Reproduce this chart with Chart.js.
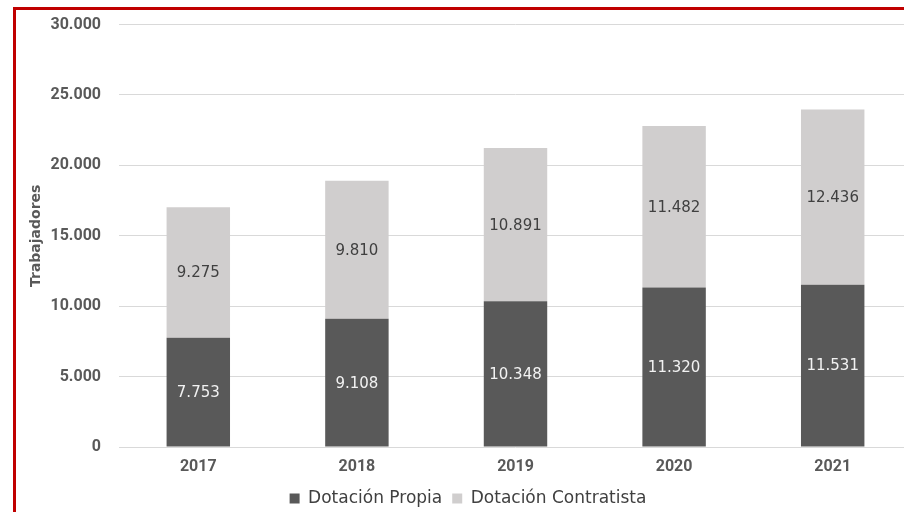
<!DOCTYPE html>
<html>
<head>
<meta charset="utf-8">
<script src="https://cdn.jsdelivr.net/npm/chart.js@4"></script>
<style>
  html, body { margin: 0; padding: 0; background: #fff; overflow: hidden; width: 904px; height: 512px; }
  #wrap { position: absolute; left: 0; top: -3px; width: 916px; height: 520px; }
  #frame { position: absolute; left: 13px; top: 7px; width: 900px; height: 510px; border-top: 3px solid #c00000; border-left: 3px solid #c00000; pointer-events: none; }
</style>
</head>
<body>
<div id="wrap"><canvas id="c" width="916" height="520"></canvas></div>
<div id="frame"></div>
<script>
const categories = ['2017', '2018', '2019', '2020', '2021'];
const propia = [7753, 9108, 10348, 11320, 11531];
const contratista = [9275, 9810, 10891, 11482, 12436];
const seriesNames = ['Dotación Propia', 'Dotación Contratista'];
const yTicks = [0, 5000, 10000, 15000, 20000, 25000, 30000];

function fmt(v) {
  return String(Math.round(v)).replace(/\B(?=(\d{3})+(?!\d))/g, '.');
}

const labelPlugin = {
  id: 'segLabels',
  afterDatasetsDraw(chart) {
    const ctx = chart.ctx;
    ctx.save();
    ctx.font = '15px "DejaVu Sans"';
    ctx.textAlign = 'center';
    ctx.textBaseline = 'middle';
    chart.data.datasets.forEach((ds, i) => {
      const meta = chart.getDatasetMeta(i);
      meta.data.forEach((el, j) => {
        const p = el.getCenterPoint();
        ctx.fillStyle = i === 0 ? '#f2f2f2' : '#404040';
        ctx.fillText(fmt(ds.data[j]), p.x, p.y + 1);
      });
    });
    ctx.restore();
  }
};

const tickFont = { family: 'Roboto', size: 16, weight: 'bold' };

new Chart(document.getElementById('c'), {
  type: 'bar',
  data: {
    labels: categories,
    datasets: [
      { label: seriesNames[0], data: propia, backgroundColor: '#595959', barPercentage: 0.4, categoryPercentage: 1 },
      { label: seriesNames[1], data: contratista, backgroundColor: '#d0cece', barPercentage: 0.4, categoryPercentage: 1 }
    ]
  },
  options: {
    responsive: false,
    animation: false,
    layout: { padding: { left: 24, top: 5, right: 4, bottom: 0 } },
    scales: {
      x: {
        stacked: true,
        afterFit(axis) { axis.height = 33; },
        grid: { display: false, drawTicks: false },
        border: { display: false },
        ticks: { color: '#595959', font: tickFont, padding: 10 }
      },
      y: {
        stacked: true,
        min: 0, max: 30000,
        afterBuildTicks(axis) { axis.ticks = yTicks.map(v => ({ value: v })); },
        afterFit(axis) { axis.width = 95; },
        grid: { color: '#d9d9d9', lineWidth: 1, drawTicks: false },
        border: { display: false },
        ticks: { color: '#595959', font: tickFont, padding: 18, callback: v => fmt(v) },
        title: { display: true, text: 'Trabajadores', color: '#595959', font: { family: 'DejaVu Sans', size: 14, weight: 'bold' }, padding: 4 }
      }
    },
    plugins: {
      legend: {
        position: 'bottom',
        labels: { color: '#404040', font: { family: 'DejaVu Sans', size: 17 }, boxWidth: 10, boxHeight: 10, padding: 10 }
      },
      tooltip: { enabled: false }
    }
  },
  plugins: [labelPlugin]
});
</script>
</body>
</html>
